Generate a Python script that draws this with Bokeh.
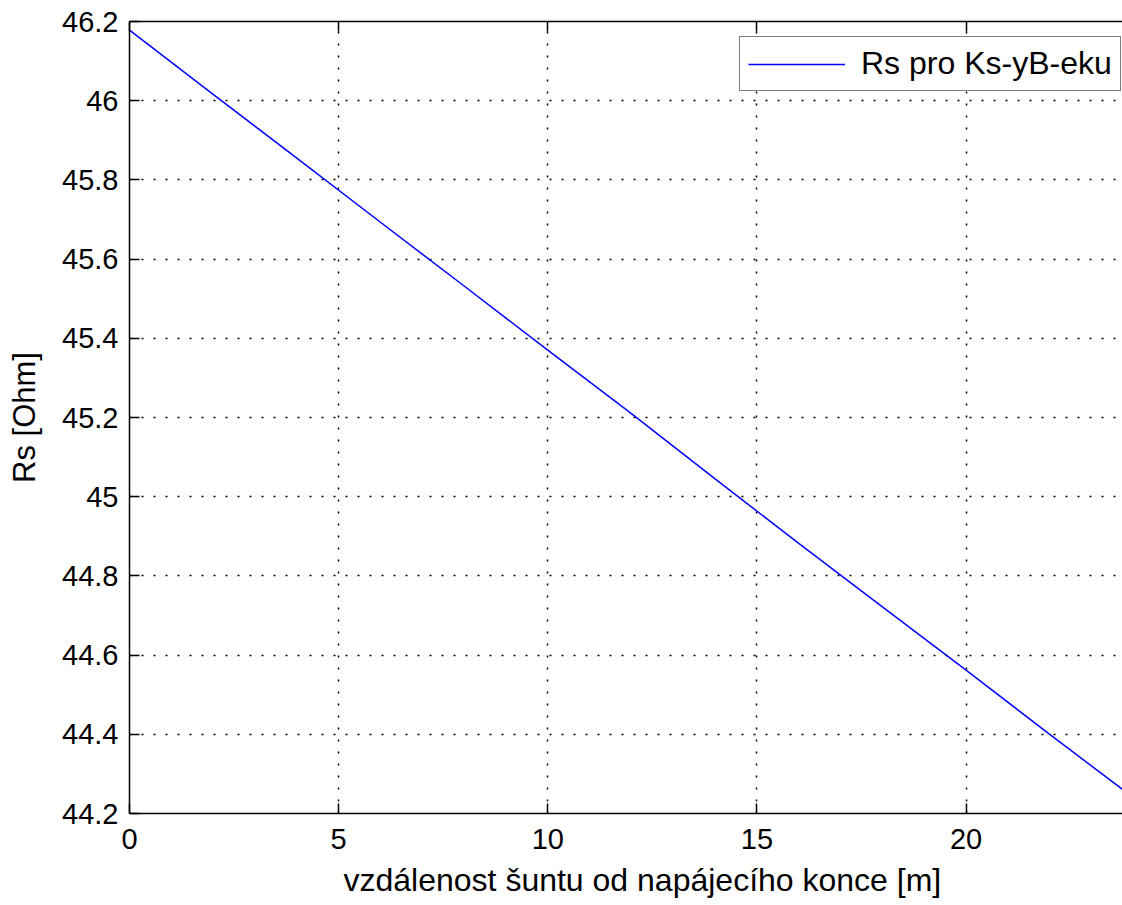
from bokeh.plotting import figure
from bokeh.models import (LinearAxis, FixedTicker, CustomJSTickFormatter, Range1d,
                          Legend, LegendItem, Title)
from bokeh.embed import file_html
from bokeh.resources import INLINE

# data
distance_m = [0, 2, 4, 6, 8, 10, 12, 14, 16, 18, 20, 22, 24]
rs_ohm = [46.178, 46.016, 45.855, 45.693, 45.532, 45.370, 45.210,
          45.045, 44.882, 44.722, 44.562, 44.400, 44.240]
x_ticks = [0, 5, 10, 15, 20]
y_ticks = [44.2, 44.4, 44.6, 44.8, 45.0, 45.2, 45.4, 45.6, 45.8, 46.0, 46.2]
series_name = "Rs pro Ks-yB-eku"
x_label = "vzdálenost šuntu od napájecího konce [m]"
y_label = "Rs [Ohm]"

TICK_FONT = "Liberation Sans"
p = figure(width=1122, height=905, output_backend="svg", toolbar_location=None,
           x_range=Range1d(0, 23.74), y_range=Range1d(44.2, 46.2),
           min_border_left=129, min_border_right=0, min_border_top=21,
           min_border_bottom=92, x_axis_location=None, y_axis_location=None)
p.outline_line_color = None
p.background_fill_color = "white"
p.border_fill_color = "white"

fmt = CustomJSTickFormatter(code="return String(Number(tick.toFixed(1)));")
blank = CustomJSTickFormatter(code="return '';")

def style_axis(ax):
    ax.axis_line_color = "black"
    ax.axis_line_width = 1.5
    ax.major_tick_line_color = "black"
    ax.major_tick_line_width = 1.5
    ax.major_tick_in = 10
    ax.major_tick_out = 0
    ax.minor_tick_line_color = None
    ax.major_label_text_font = TICK_FONT
    ax.major_label_text_color = "black"
    ax.major_label_text_font_size = "29px"

xb = LinearAxis(ticker=FixedTicker(ticks=x_ticks), formatter=fmt)
style_axis(xb)
xb.major_label_standoff = 15
p.add_layout(xb, "below")

xt = LinearAxis(ticker=FixedTicker(ticks=x_ticks), formatter=blank)
style_axis(xt)
xt.major_label_standoff = 0
p.add_layout(xt, "above")

yl = LinearAxis(ticker=FixedTicker(ticks=y_ticks), formatter=fmt)
style_axis(yl)
yl.major_label_standoff = 11
yl.axis_label = y_label
yl.axis_label_text_font = "Liberation Sans"
yl.axis_label_text_font_size = "31px"
yl.axis_label_text_font_style = "normal"
yl.axis_label_text_color = "black"
yl.axis_label_standoff = 17
p.add_layout(yl, "left")

p.xgrid.ticker = FixedTicker(ticks=x_ticks)
p.ygrid.ticker = FixedTicker(ticks=y_ticks)
for g in (p.xgrid, p.ygrid):
    g.grid_line_color = "black"
    g.grid_line_width = 1.5
    g.grid_line_dash = "2 10"

r = p.line(distance_m, rs_ohm, line_color="#0000ff", line_width=1.5)

legend = Legend(items=[LegendItem(label=series_name, renderers=[r])],
                location=(610, 722))
legend.label_text_font = TICK_FONT
legend.label_text_font_size = "32px"
legend.label_text_color = "black"
legend.border_line_color = "black"
legend.border_line_width = 1.5
legend.background_fill_color = "white"
legend.background_fill_alpha = 1
legend.padding = 8
legend.glyph_width = 97
legend.label_standoff = 16
legend.margin = 0
p.add_layout(legend, "center")

xt_title = Title(text=x_label, align="left", offset=214,
                 text_font="Liberation Sans", text_font_size="32px",
                 text_font_style="normal", text_color="black", standoff=16,
                 text_line_height=0.8)
p.add_layout(xt_title, "below")

open("out.html", "w").write(file_html(p, INLINE))
